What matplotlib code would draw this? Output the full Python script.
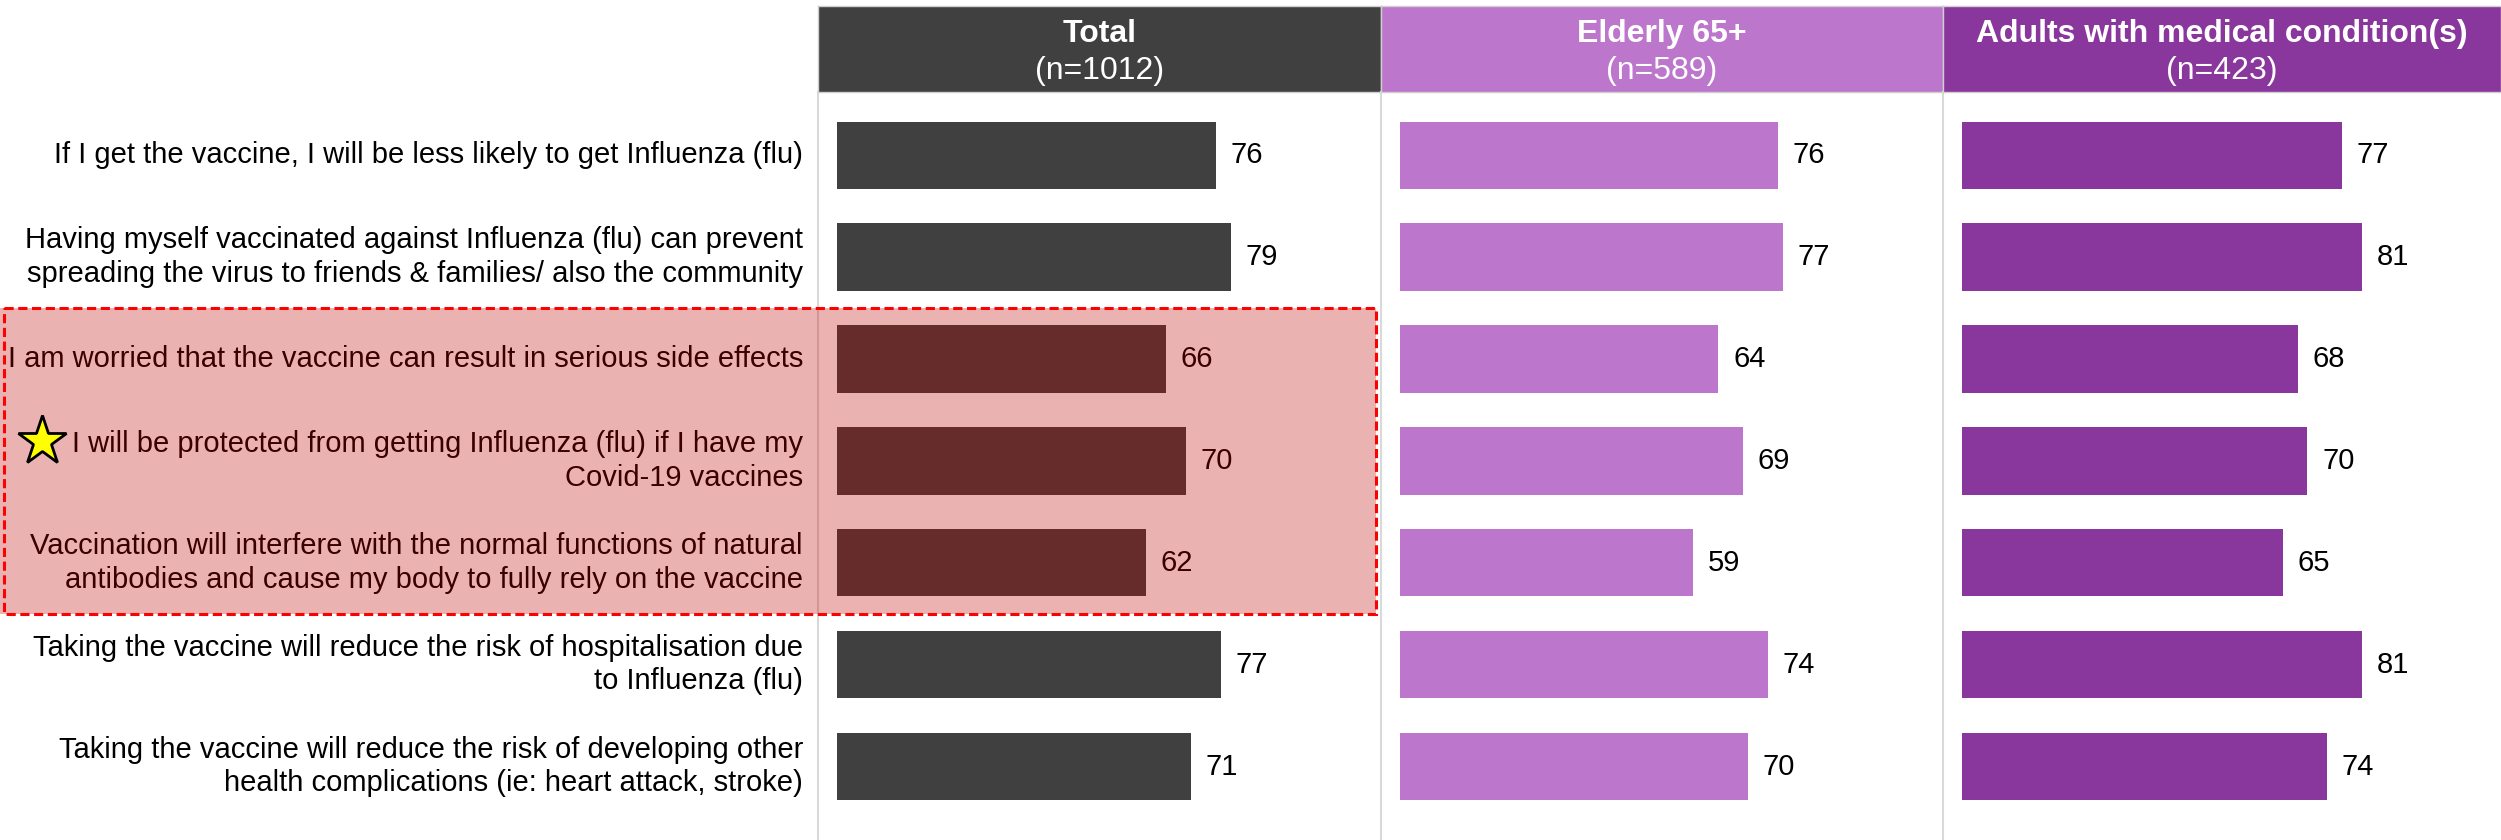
import matplotlib.pyplot as plt
from matplotlib.patches import Rectangle
from matplotlib.lines import Line2D
from matplotlib.transforms import blended_transform_factory
import numpy as np

plt.rcParams['font.family'] = ['Liberation Sans', 'DejaVu Sans']

# ── DATA ─────────────────────────────────────────────────────
statements = [
    'If I get the vaccine, I will be less likely to get Influenza (flu)',
    'Having myself vaccinated against Influenza (flu) can prevent\nspreading the virus to friends & families/ also the community',
    'I am worried that the vaccine can result in serious side effects',
    'I will be protected from getting Influenza (flu) if I have my\nCovid-19 vaccines',
    'Vaccination will interfere with the normal functions of natural\nantibodies and cause my body to fully rely on the vaccine',
    'Taking the vaccine will reduce the risk of hospitalisation due\nto Influenza (flu)',
    'Taking the vaccine will reduce the risk of developing other\nhealth complications (ie: heart attack, stroke)',
]
groups = ['Total', 'Elderly 65+', 'Adults with medical condition(s)']
group_n = [1012, 589, 423]
total_vals = [76, 79, 66, 70, 62, 77, 71]
elderly_vals = [76, 77, 64, 69, 59, 74, 70]
adults_vals = [77, 81, 68, 70, 65, 81, 74]
highlight_rows = [2, 3, 4]
star_row = 3

# ── STYLE ────────────────────────────────────────────────────
COLORS = ['#404040', '#BC77CD', '#8A379D']
SEP_C = '#D9D9D9'
W, H = 2501, 840
panel_x = [818, 1381, 1943, 2501]
head_top, head_bot = 6, 92
FS = 21
HFS = 23

fig = plt.figure(figsize=(W / 100, H / 100), dpi=100)
fig.patch.set_facecolor('white')

y = np.arange(len(statements))
axes = []
for i, vals in enumerate([total_vals, elderly_vals, adults_vals]):
    x0, x1 = panel_x[i], panel_x[i + 1]
    ax = fig.add_axes([x0 / W, 0, (x1 - x0) / W, 1 - head_bot / H])
    ax.barh(y, vals, height=0.66, color=COLORS[i], zorder=2)
    for yi, v in zip(y, vals):
        ax.text(v + 3.0, yi, f'{v}', va='center', ha='left', fontsize=FS, color='black')
    ax.set_xlim(-3.8, 109.2)
    ax.set_ylim(6.72, -0.62)
    ax.set_xticks([])
    ax.set_yticks([])
    for s in ['top', 'right', 'bottom']:
        ax.spines[s].set_visible(False)
    ax.spines['left'].set_color(SEP_C)
    ax.spines['left'].set_linewidth(1.5)
    axes.append(ax)

    # header
    hx = fig.add_axes([x0 / W, 1 - head_bot / H, (x1 - x0) / W, (head_bot - head_top) / H])
    hx.set_facecolor(COLORS[i])
    hx.set_xticks([])
    hx.set_yticks([])
    for s in hx.spines.values():
        s.set_color('#D0D0D0')
        s.set_linewidth(1.0)
    hx.text(0.5, 0.67, groups[i], ha='center', va='center', fontsize=HFS,
            fontweight='bold', color='white', transform=hx.transAxes)
    hx.text(0.5, 0.24, f'(n={group_n[i]})', ha='center', va='center', fontsize=HFS,
            color='white', transform=hx.transAxes)

ax1 = axes[0]
tr = blended_transform_factory(fig.transFigure, ax1.transData)

# row labels
for yi, lab in zip(y, statements):
    ax1.text(803 / W, yi, lab, transform=tr, ha='right', va='center',
             fontsize=FS, color='black', linespacing=1.25, clip_on=False)

# highlight overlay
top = min(highlight_rows) - 0.5
hgt = len(highlight_rows)
fig.add_artist(Rectangle((0.0, top), 1376 / W, hgt, transform=tr,
                         facecolor='#C00000', alpha=0.3, edgecolor='none', zorder=10))
fig.add_artist(Rectangle((0.0015, top), 1376 / W - 0.0015, hgt, transform=tr,
                         fill=False, edgecolor='#FF0000', linewidth=2.2,
                         linestyle=(0, (3, 1.5)), zorder=11))

# star marker (drawn above the overlay)
fig.add_artist(Line2D([42 / W], [star_row - 0.2], transform=tr, marker='*',
                      markersize=37, markerfacecolor='#FFFF00',
                      markeredgecolor='black', markeredgewidth=2, zorder=12))

fig.savefig('out.png', dpi=100, facecolor='white')
